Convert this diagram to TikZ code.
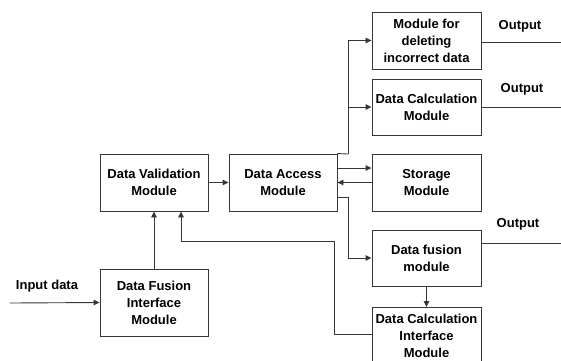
\documentclass[tikz,border=0pt]{standalone}
\usepackage{fontspec}
\setmainfont{Liberation Sans}
\usetikzlibrary{arrows.meta}
\definecolor{ink}{RGB}{55,55,55}
\tikzset{
  mod/.style={draw=ink, line width=0.9pt, fill=white, align=center, inner sep=0pt,
    font=\fontsize{13}{17}\selectfont\bfseries, text=black},
  lbl/.style={inner sep=0pt, font=\fontsize{13}{17}\selectfont\bfseries},
  link/.style={draw=ink, line width=0.9pt},
  flow/.style={link, -{Triangle[length=6pt,width=5.5pt]}}
}
\begin{document}
\begin{tikzpicture}[x=1pt, y=-1pt]
  \useasboundingbox[fill=white] (0,0) rectangle (561,360);

  % module boxes
  \node[mod, minimum width=108pt, minimum height=57pt] (dv)  at (154,182.5) {Data Validation\\Module};
  \node[mod, minimum width=108pt, minimum height=57pt] (da)  at (283,182.5) {Data Access\\Module};
  \node[mod, minimum width=108pt, minimum height=67pt] (dfi) at (154,302.5) {Data Fusion\\Interface\\Module};
  \node[mod, minimum width=109pt, minimum height=57pt] (del) at (426.5,40.5) {Module for\\deleting\\incorrect data};
  \node[mod, minimum width=109pt, minimum height=56pt] (dcm) at (426.5,107) {Data Calculation\\Module};
  \node[mod, minimum width=109pt, minimum height=57pt] (sto) at (426.5,182.5) {Storage\\Module};
  \node[mod, minimum width=109pt, minimum height=56pt] (dfm) at (426.5,258) {Data fusion\\module};
  \node[mod, minimum width=109pt, minimum height=62pt, anchor=north] (dci) at (426.5,307)
    {\rule{0pt}{16pt}Data Calculation\\Interface\\Module\\[3pt]};

  % free ends and bends
  \coordinate (in) at (10,303);
  \coordinate (o1) at (561,42);
  \coordinate (o2) at (561,107);
  \coordinate (o3) at (561,243);
  \coordinate (j1) at (348,154);
  \coordinate (k1) at (334,241);

  % text labels
  \node[lbl] (tin) at (47,286) {Input data};
  \node[lbl] (t1) at (520,26) {Output};
  \node[lbl] (t2) at (522,89) {Output};
  \node[lbl] (t3) at (518,224) {Output};

  % connectors
  \draw[flow] (in) -- (dfi.west);
  \draw[flow] (dfi.north) -- (dv.south);
  \draw[flow] (dv.east) -- (da.east -| da.west);
  \draw[link] (da.north east) -- (j1);
  \draw[flow] (j1) |- (del.west);
  \draw[flow] (j1) |- (dcm.west);
  \draw[flow] ([yshift=14.5pt]da.east) -- ([yshift=14.5pt]sto.west);
  \draw[flow] (sto.west) -- (da.east);
  \draw[flow] ([yshift=-14.5pt]da.east) -- ++(11pt,0) |- (dfm.west);
  \draw[flow] (dfm.south) -- (dci.north);
  \draw[flow] (dci.west |- 0,334) -| (k1) -| ([xshift=27pt]dv.south);
  \draw[link] (del.east |- o1) -- (o1);
  \draw[link] (dcm.east) -- (o2);
  \draw[link] (dfm.east |- o3) -- (o3);
\end{tikzpicture}
\end{document}
